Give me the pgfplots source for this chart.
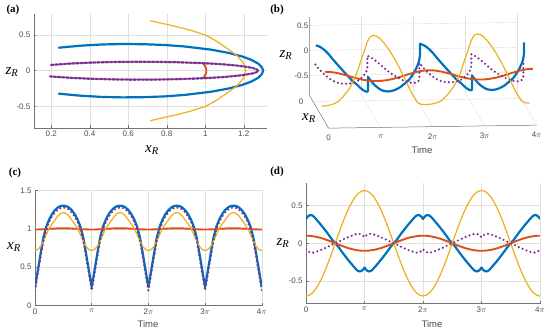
\documentclass[border=0pt]{standalone}
\usepackage{pgfplots}
\pgfplotsset{compat=1.18}
\usepackage{pgfplotstable}
\usepackage{fontspec}
\setmainfont{Liberation Sans}
\newfontfamily\serif{Liberation Serif}
\definecolor{mblue}{rgb}{0,0.447,0.741}
\definecolor{mred}{rgb}{0.85,0.325,0.098}
\definecolor{myel}{rgb}{0.929,0.694,0.125}
\definecolor{mpur}{rgb}{0.494,0.184,0.556}
\definecolor{gridc}{gray}{0.88}
\definecolor{axc}{gray}{0.45}
\definecolor{tickc}{gray}{0.3}

% t in units of pi, x = x_R, z = z_R
\pgfplotstableread[row sep=\\]{t x z\\
0 0.240 0.322\\ 0.025 0.350 0.350\\ 0.05 0.460 0.367\\ 0.075 0.570 0.374\\ 0.1 0.680 0.371\\ 0.125 0.790 0.360\\ 0.15 0.890 0.340\\ 0.2 1.030 0.295\\ 0.25 1.120 0.250\\ 0.3 1.190 0.201\\ 0.35 1.240 0.151\\ 0.4 1.275 0.099\\ 0.45 1.295 0.044\\ 0.5 1.300 0\\
0.55 1.295 -0.044\\ 0.6 1.275 -0.099\\ 0.65 1.240 -0.151\\ 0.7 1.190 -0.201\\ 0.75 1.120 -0.250\\ 0.8 1.030 -0.295\\ 0.85 0.890 -0.340\\ 0.875 0.790 -0.360\\ 0.9 0.680 -0.371\\ 0.925 0.570 -0.374\\ 0.95 0.460 -0.367\\ 0.975 0.350 -0.350\\ 1 0.240 -0.322\\
1.025 0.350 -0.350\\ 1.05 0.460 -0.367\\ 1.075 0.570 -0.374\\ 1.1 0.680 -0.371\\ 1.125 0.790 -0.360\\ 1.15 0.890 -0.340\\ 1.2 1.030 -0.295\\ 1.25 1.120 -0.250\\ 1.3 1.190 -0.201\\ 1.35 1.240 -0.151\\ 1.4 1.275 -0.099\\ 1.45 1.295 -0.044\\ 1.5 1.300 0\\
1.55 1.295 0.044\\ 1.6 1.275 0.099\\ 1.65 1.240 0.151\\ 1.7 1.190 0.201\\ 1.75 1.120 0.250\\ 1.8 1.030 0.295\\ 1.85 0.890 0.340\\ 1.875 0.790 0.360\\ 1.9 0.680 0.371\\ 1.925 0.570 0.374\\ 1.95 0.460 0.367\\ 1.975 0.350 0.350\\ 2 0.240 0.322\\
2.025 0.350 0.350\\ 2.05 0.460 0.367\\ 2.075 0.570 0.374\\ 2.1 0.680 0.371\\ 2.125 0.790 0.360\\ 2.15 0.890 0.340\\ 2.2 1.030 0.295\\ 2.25 1.120 0.250\\ 2.3 1.190 0.201\\ 2.35 1.240 0.151\\ 2.4 1.275 0.099\\ 2.45 1.295 0.044\\ 2.5 1.300 0\\
2.55 1.295 -0.044\\ 2.6 1.275 -0.099\\ 2.65 1.240 -0.151\\ 2.7 1.190 -0.201\\ 2.75 1.120 -0.250\\ 2.8 1.030 -0.295\\ 2.85 0.890 -0.340\\ 2.875 0.790 -0.360\\ 2.9 0.680 -0.371\\ 2.925 0.570 -0.374\\ 2.95 0.460 -0.367\\ 2.975 0.350 -0.350\\ 3 0.240 -0.322\\
3.025 0.350 -0.350\\ 3.05 0.460 -0.367\\ 3.075 0.570 -0.374\\ 3.1 0.680 -0.371\\ 3.125 0.790 -0.360\\ 3.15 0.890 -0.340\\ 3.2 1.030 -0.295\\ 3.25 1.120 -0.250\\ 3.3 1.190 -0.201\\ 3.35 1.240 -0.151\\ 3.4 1.275 -0.099\\ 3.45 1.295 -0.044\\ 3.5 1.300 0\\
3.55 1.295 0.044\\ 3.6 1.275 0.099\\ 3.65 1.240 0.151\\ 3.7 1.190 0.201\\ 3.75 1.120 0.250\\ 3.8 1.030 0.295\\ 3.85 0.890 0.340\\ 3.875 0.790 0.360\\ 3.9 0.680 0.371\\ 3.925 0.570 0.374\\ 3.95 0.460 0.367\\ 3.975 0.350 0.350\\ 4 0.240 0.322\\
}\tblue

\pgfplotstableread[row sep=\\]{t x z\\
0 0.195 -0.080\\ 0.025 0.305 -0.101\\ 0.05 0.415 -0.114\\ 0.075 0.525 -0.122\\ 0.1 0.635 -0.125\\ 0.125 0.745 -0.124\\ 0.15 0.850 -0.119\\ 0.2 0.995 -0.105\\ 0.25 1.090 -0.090\\ 0.3 1.160 -0.073\\ 0.35 1.210 -0.056\\ 0.4 1.248 -0.037\\ 0.45 1.270 -0.016\\ 0.5 1.275 0\\
0.55 1.270 0.016\\ 0.6 1.248 0.037\\ 0.65 1.210 0.056\\ 0.7 1.160 0.073\\ 0.75 1.090 0.090\\ 0.8 0.995 0.105\\ 0.85 0.850 0.119\\ 0.875 0.745 0.124\\ 0.9 0.635 0.125\\ 0.925 0.525 0.122\\ 0.95 0.415 0.114\\ 0.975 0.305 0.101\\ 1 0.195 0.080\\
1.025 0.305 0.101\\ 1.05 0.415 0.114\\ 1.075 0.525 0.122\\ 1.1 0.635 0.125\\ 1.125 0.745 0.124\\ 1.15 0.850 0.119\\ 1.2 0.995 0.105\\ 1.25 1.090 0.090\\ 1.3 1.160 0.073\\ 1.35 1.210 0.056\\ 1.4 1.248 0.037\\ 1.45 1.270 0.016\\ 1.5 1.275 0\\
1.55 1.270 -0.016\\ 1.6 1.248 -0.037\\ 1.65 1.210 -0.056\\ 1.7 1.160 -0.073\\ 1.75 1.090 -0.090\\ 1.8 0.995 -0.105\\ 1.85 0.850 -0.119\\ 1.875 0.745 -0.124\\ 1.9 0.635 -0.125\\ 1.925 0.525 -0.122\\ 1.95 0.415 -0.114\\ 1.975 0.305 -0.101\\ 2 0.195 -0.080\\
2.025 0.305 -0.101\\ 2.05 0.415 -0.114\\ 2.075 0.525 -0.122\\ 2.1 0.635 -0.125\\ 2.125 0.745 -0.124\\ 2.15 0.850 -0.119\\ 2.2 0.995 -0.105\\ 2.25 1.090 -0.090\\ 2.3 1.160 -0.073\\ 2.35 1.210 -0.056\\ 2.4 1.248 -0.037\\ 2.45 1.270 -0.016\\ 2.5 1.275 0\\
2.55 1.270 0.016\\ 2.6 1.248 0.037\\ 2.65 1.210 0.056\\ 2.7 1.160 0.073\\ 2.75 1.090 0.090\\ 2.8 0.995 0.105\\ 2.85 0.850 0.119\\ 2.875 0.745 0.124\\ 2.9 0.635 0.125\\ 2.925 0.525 0.122\\ 2.95 0.415 0.114\\ 2.975 0.305 0.101\\ 3 0.195 0.080\\
3.025 0.305 0.101\\ 3.05 0.415 0.114\\ 3.075 0.525 0.122\\ 3.1 0.635 0.125\\ 3.125 0.745 0.124\\ 3.15 0.850 0.119\\ 3.2 0.995 0.105\\ 3.25 1.090 0.090\\ 3.3 1.160 0.073\\ 3.35 1.210 0.056\\ 3.4 1.248 0.037\\ 3.45 1.270 0.016\\ 3.5 1.275 0\\
3.55 1.270 -0.016\\ 3.6 1.248 -0.037\\ 3.65 1.210 -0.056\\ 3.7 1.160 -0.073\\ 3.75 1.090 -0.090\\ 3.8 0.995 -0.105\\ 3.85 0.850 -0.119\\ 3.875 0.745 -0.124\\ 3.9 0.635 -0.125\\ 3.925 0.525 -0.122\\ 3.95 0.415 -0.114\\ 3.975 0.305 -0.101\\ 4 0.195 -0.080\\
}\tpur

\pgfplotstableread[row sep=\\]{t x z\\
0 0.714 -0.700\\ 0.05 0.730 -0.691\\ 0.1 0.770 -0.666\\ 0.15 0.840 -0.624\\ 0.2 0.925 -0.566\\ 0.25 1.005 -0.495\\ 0.3 1.060 -0.411\\ 0.35 1.110 -0.318\\ 0.4 1.163 -0.216\\ 0.45 1.198 -0.110\\ 0.5 1.210 0\\
0.55 1.198 0.110\\ 0.6 1.163 0.216\\ 0.65 1.110 0.318\\ 0.7 1.060 0.411\\ 0.75 1.005 0.495\\ 0.8 0.925 0.566\\ 0.85 0.840 0.624\\ 0.9 0.770 0.666\\ 0.95 0.730 0.691\\ 1 0.714 0.700\\
1.05 0.730 0.691\\ 1.1 0.770 0.666\\ 1.15 0.840 0.624\\ 1.2 0.925 0.566\\ 1.25 1.005 0.495\\ 1.3 1.060 0.411\\ 1.35 1.110 0.318\\ 1.4 1.163 0.216\\ 1.45 1.198 0.110\\ 1.5 1.210 0\\
1.55 1.198 -0.110\\ 1.6 1.163 -0.216\\ 1.65 1.110 -0.318\\ 1.7 1.060 -0.411\\ 1.75 1.005 -0.495\\ 1.8 0.925 -0.566\\ 1.85 0.840 -0.624\\ 1.9 0.770 -0.666\\ 1.95 0.730 -0.691\\ 2 0.714 -0.700\\
2.05 0.730 -0.691\\ 2.1 0.770 -0.666\\ 2.15 0.840 -0.624\\ 2.2 0.925 -0.566\\ 2.25 1.005 -0.495\\ 2.3 1.060 -0.411\\ 2.35 1.110 -0.318\\ 2.4 1.163 -0.216\\ 2.45 1.198 -0.110\\ 2.5 1.210 0\\
2.55 1.198 0.110\\ 2.6 1.163 0.216\\ 2.65 1.110 0.318\\ 2.7 1.060 0.411\\ 2.75 1.005 0.495\\ 2.8 0.925 0.566\\ 2.85 0.840 0.624\\ 2.9 0.770 0.666\\ 2.95 0.730 0.691\\ 3 0.714 0.700\\
3.05 0.730 0.691\\ 3.1 0.770 0.666\\ 3.15 0.840 0.624\\ 3.2 0.925 0.566\\ 3.25 1.005 0.495\\ 3.3 1.060 0.411\\ 3.35 1.110 0.318\\ 3.4 1.163 0.216\\ 3.45 1.198 0.110\\ 3.5 1.210 0\\
3.55 1.198 -0.110\\ 3.6 1.163 -0.216\\ 3.65 1.110 -0.318\\ 3.7 1.060 -0.411\\ 3.75 1.005 -0.495\\ 3.8 0.925 -0.566\\ 3.85 0.840 -0.624\\ 3.9 0.770 -0.666\\ 3.95 0.730 -0.691\\ 4 0.714 -0.700\\
}\tyel

\pgfplotstableread[row sep=\\]{t x z\\
0 0.990 0.100\\ 0.05 0.990 0.099\\ 0.1 0.991 0.095\\ 0.15 0.993 0.089\\ 0.2 0.995 0.081\\ 0.25 0.998 0.071\\ 0.3 1.000 0.059\\ 0.35 1.002 0.045\\ 0.4 1.004 0.031\\ 0.45 1.005 0.016\\ 0.5 1.005 0\\
0.55 1.005 -0.016\\ 0.6 1.004 -0.031\\ 0.65 1.002 -0.045\\ 0.7 1.000 -0.059\\ 0.75 0.998 -0.071\\ 0.8 0.995 -0.081\\ 0.85 0.993 -0.089\\ 0.9 0.991 -0.095\\ 0.95 0.990 -0.099\\ 1 0.990 -0.100\\
1.05 0.990 -0.099\\ 1.1 0.991 -0.095\\ 1.15 0.993 -0.089\\ 1.2 0.995 -0.081\\ 1.25 0.998 -0.071\\ 1.3 1.000 -0.059\\ 1.35 1.002 -0.045\\ 1.4 1.004 -0.031\\ 1.45 1.005 -0.016\\ 1.5 1.005 0\\
1.55 1.005 0.016\\ 1.6 1.004 0.031\\ 1.65 1.002 0.045\\ 1.7 1.000 0.059\\ 1.75 0.998 0.071\\ 1.8 0.995 0.081\\ 1.85 0.993 0.089\\ 1.9 0.991 0.095\\ 1.95 0.990 0.099\\ 2 0.990 0.100\\
2.05 0.990 0.099\\ 2.1 0.991 0.095\\ 2.15 0.993 0.089\\ 2.2 0.995 0.081\\ 2.25 0.998 0.071\\ 2.3 1.000 0.059\\ 2.35 1.002 0.045\\ 2.4 1.004 0.031\\ 2.45 1.005 0.016\\ 2.5 1.005 0\\
2.55 1.005 -0.016\\ 2.6 1.004 -0.031\\ 2.65 1.002 -0.045\\ 2.7 1.000 -0.059\\ 2.75 0.998 -0.071\\ 2.8 0.995 -0.081\\ 2.85 0.993 -0.089\\ 2.9 0.991 -0.095\\ 2.95 0.990 -0.099\\ 3 0.990 -0.100\\
3.05 0.990 -0.099\\ 3.1 0.991 -0.095\\ 3.15 0.993 -0.089\\ 3.2 0.995 -0.081\\ 3.25 0.998 -0.071\\ 3.3 1.000 -0.059\\ 3.35 1.002 -0.045\\ 3.4 1.004 -0.031\\ 3.45 1.005 -0.016\\ 3.5 1.005 0\\
3.55 1.005 0.016\\ 3.6 1.004 0.031\\ 3.65 1.002 0.045\\ 3.7 1.000 0.059\\ 3.75 0.998 0.071\\ 3.8 0.995 0.081\\ 3.85 0.993 0.089\\ 3.9 0.991 0.095\\ 3.95 0.990 0.099\\ 4 0.990 0.100\\
}\tred

\pgfplotsset{
  mstyle/.style={scale only axis, anchor=south west, axis lines*=left,
    grid=major, major grid style={gridc, line width=0.4pt},
    axis line style={axc, line width=0.5pt}, tick align=inside,
    major tick length=2.5pt, tick style={axc, line width=0.4pt},
    tick label style={font=\fontsize{8}{9}\selectfont, text=tickc},
    /pgf/number format/assume math mode=true},
  bl/.style={mblue, line width=2.2pt, line join=round},
  re/.style={mred, line width=1.9pt, line join=round},
  ye/.style={myel, line width=1.25pt, line join=round},
  pu/.style={mpur, line width=2.4pt, line cap=round, dash pattern=on 0pt off 4.2pt},
}
\newcommand{\tl}{\fontsize{8}{9}\selectfont\color{tickc}}
\newcommand{\pl}[1]{{\serif\bfseries\fontsize{11}{12}\selectfont(#1)}}
\newcommand{\vl}[1]{{\serif\fontsize{15}{15}\selectfont\itshape #1\textsubscript{R}}}
\newcommand{\tm}{{\fontsize{9.5}{10}\selectfont\color{tickc}Time}}

\begin{document}
\begin{tikzpicture}
\path[use as bounding box] (0,0) rectangle (550pt,-332pt);

% (a)
\begin{axis}[mstyle, at={(33.9pt,-127.8pt)}, width=233pt, height=114.2pt,
  xmin=0.11, xmax=1.32, ymin=-0.8, ymax=0.8,
  xtick={0.2,0.4,0.6,0.8,1,1.2}, ytick={-0.5,0,0.5}]
\addplot[bl] table[x=x,y=z]{\tblue};
\addplot[re] table[x=x,y=z]{\tred};
\addplot[myel, line width=1.3pt, dash pattern=on 1.5pt off 0.9pt] table[x=x,y=z]{\tyel};
\addplot[pu] table[x=x,y=z]{\tpur};
\end{axis}

% (b)
\begin{axis}[hide axis, clip=false, at={(313pt,-56.5pt)}, anchor=origin,
  x={(52pt,0.75pt)}, y={(12pt,-20.5pt)}, z={(0pt,50pt)},
  xmin=0, xmax=4, ymin=-0.3, ymax=1.3, zmin=-0.9, zmax=0.66]
\pgfplotsinvokeforeach{1,2,3,4}{
  \draw[gridc, line width=0.4pt] (axis cs:#1,-0.3,-0.9) -- (axis cs:#1,-0.3,0.66);
  \draw[gridc, line width=0.4pt] (axis cs:#1,-0.3,-0.9) -- (axis cs:#1,1.3,-0.9);
}
\pgfplotsinvokeforeach{-0.5,0,0.5}{
  \draw[gridc, line width=0.4pt] (axis cs:0,-0.3,#1) -- (axis cs:4,-0.3,#1);
}
\draw[gridc, line width=0.4pt] (axis cs:0,0,-0.9) -- (axis cs:4,0,-0.9);
\draw[axc, line width=0.5pt] (axis cs:0,-0.3,0.66) -- (axis cs:0,-0.3,-0.9) -- (axis cs:0,1.3,-0.9) -- (axis cs:4,1.3,-0.9);
\addplot3[bl] table[x=t,y=x,z=z]{\tblue};
\addplot3[re] table[x=t,y=x,z=z]{\tred};
\addplot3[myel, line width=1.2pt] table[x=t,y=x,z=z]{\tyel};
\addplot3[pu] table[x=t,y=x,z=z]{\tpur};
\node[anchor=east, inner sep=1pt] at (axis cs:0,-0.3,0.5) {\tl 0.5};
\node[anchor=east, inner sep=1pt] at (axis cs:0,-0.3,0) {\tl 0};
\node[anchor=east, inner sep=1pt] at (axis cs:0,-0.3,-0.5) {\tl -0.5};
\node[xshift=-12pt, inner sep=0pt] at (axis cs:0,0,-0.9) {\tl 0};
\node[anchor=north, yshift=-7pt, inner sep=0pt] at (axis cs:0,1.3,-0.9) {\tl 0};
\node[anchor=north, yshift=-7pt, inner sep=0pt] at (axis cs:1,1.3,-0.9) {\tl $\pi$};
\node[anchor=north, yshift=-7pt, inner sep=0pt] at (axis cs:2,1.3,-0.9) {\tl 2$\pi$};
\node[anchor=north, yshift=-7pt, inner sep=0pt] at (axis cs:3,1.3,-0.9) {\tl 3$\pi$};
\node[anchor=north, yshift=-7pt, inner sep=0pt] at (axis cs:4,1.3,-0.9) {\tl 4$\pi$};
\end{axis}

% (c)
\begin{axis}[mstyle, at={(35pt,-305.5pt)}, width=226.8pt, height=115.2pt,
  xmin=0, xmax=4, ymin=0, ymax=1.5,
  xtick={0,1,2,3,4}, xticklabels={0,$\pi$,2$\pi$,3$\pi$,4$\pi$}, ytick={0,0.5,1,1.5}]
\addplot[bl] table[x=t,y=x]{\tblue};
\addplot[re] table[x=t,y=x]{\tred};
\addplot[ye] table[x=t,y=x]{\tyel};
\addplot[pu] table[x=t,y=x]{\tpur};
\end{axis}

% (d)
\begin{axis}[mstyle, at={(306pt,-303.5pt)}, width=234pt, height=120.5pt,
  xmin=0, xmax=4, ymin=-0.8, ymax=0.8,
  xtick={0,1,2,3,4}, xticklabels={0,$\pi$,2$\pi$,3$\pi$,4$\pi$}, ytick={-0.5,0,0.5}]
\addplot[bl] table[x=t,y=z]{\tblue};
\addplot[re] table[x=t,y=z]{\tred};
\addplot[ye] table[x=t,y=z]{\tyel};
\addplot[pu] table[x=t,y=z]{\tpur};
\end{axis}

% labels
\node at (13pt,-10pt) {\pl{a}};
\node at (277pt,-10pt) {\pl{b}};
\node at (15pt,-173pt) {\pl{c}};
\node at (277pt,-172pt) {\pl{d}};
\node at (152pt,-150pt) {\vl{x}};
\node at (12pt,-72pt) {\vl{z}};
\node at (286pt,-55pt) {\vl{z}};
\node at (309pt,-118pt) {\vl{x}};
\node at (14pt,-247pt) {\vl{x}};
\node at (283pt,-243pt) {\vl{z}};
\node at (422pt,-150pt) {\tm};
\node at (148pt,-324pt) {\tm};
\node at (432pt,-324pt) {\tm};
\end{tikzpicture}
\end{document}
